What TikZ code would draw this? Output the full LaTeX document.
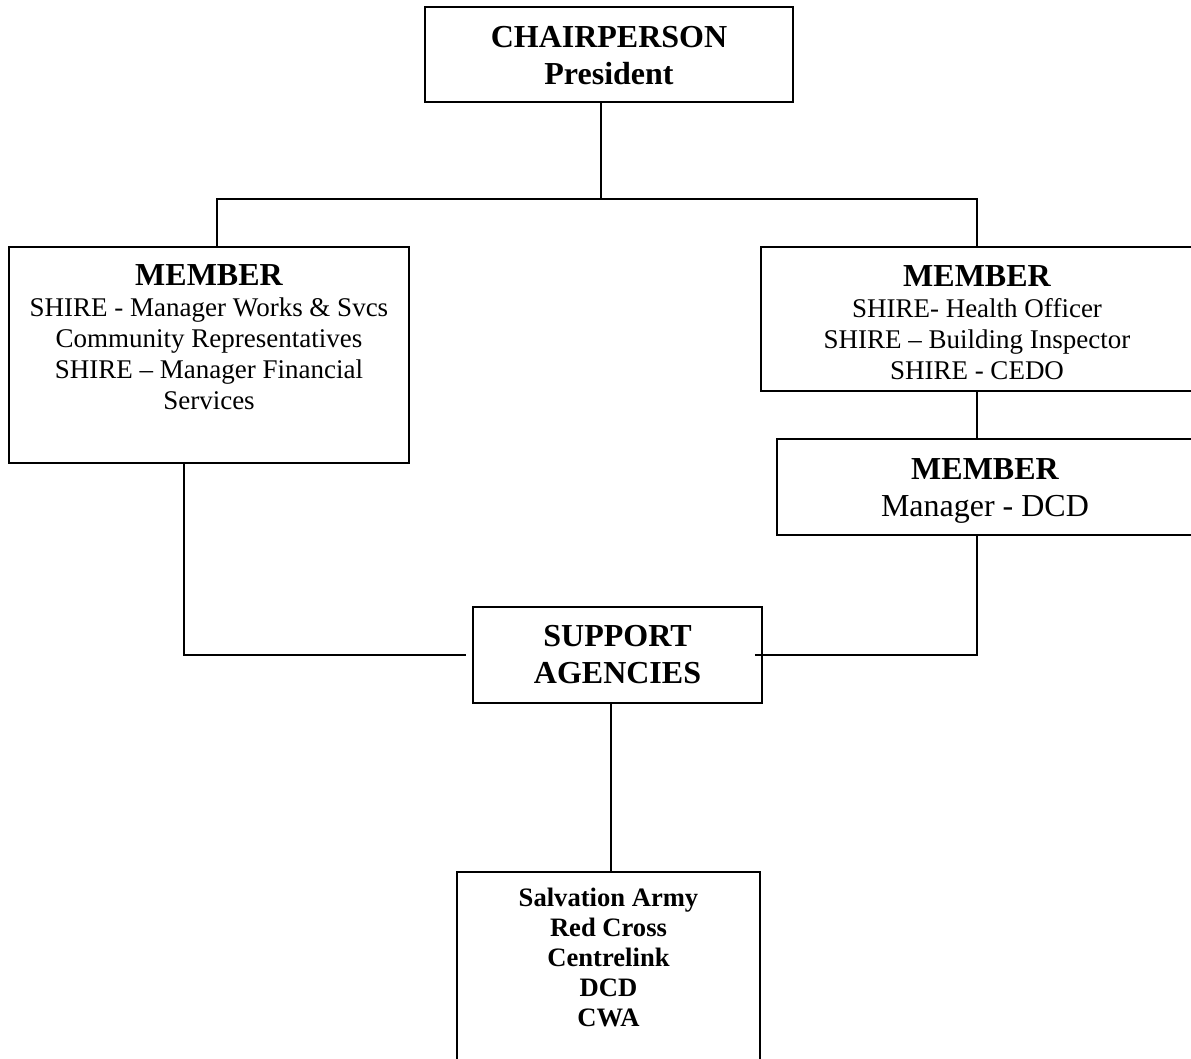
\documentclass[tikz,border=0pt]{standalone}
\usepackage{fontspec}
\setmainfont{Liberation Serif}
\usetikzlibrary{positioning,calc}

\begin{document}
\begin{tikzpicture}[x=0.5pt, y=-0.5pt,
    box/.style={draw, line width=0.8pt, inner sep=0pt},
    link/.style={line width=0.8pt},
    txt/.style={anchor=base, align=center, inner sep=0pt},
    head/.style={font=\fontsize{16}{18.5}\selectfont\bfseries},
    body/.style={font=\fontsize{13.5}{15.4}\selectfont}]
    \useasboundingbox (0,0) rectangle (1191,1059);

    % Boxes
    \node[box, minimum width=184pt, minimum height=47.5pt] (chair) at (609,54.5) {};
    \node[box, minimum width=200pt, minimum height=108pt] (memL) at (209,355) {};
    \node[box, minimum width=216pt, minimum height=72pt] (memR) at (977,319) {};
    \node[box, minimum width=208pt, minimum height=48pt] (memDCD) at (985,487) {};
    \node[box, minimum width=144.5pt, minimum height=48pt] (support) at (617.5,655) {};
    \node[box, minimum width=151.5pt, minimum height=114pt] (agencies) at (608.5,986) {};

    % Texts (base = last line)
    \node[txt, head] (chairT) at ([yshift=-39pt]chair.north) {CHAIRPERSON\\President};
    \node[txt, body] (memLT) at ([yshift=-81.5pt]memL.north)
        {{\fontsize{16}{18}\selectfont\bfseries MEMBER}\\SHIRE - Manager Works \& Svcs\\Community Representatives\\SHIRE – Manager Financial\\Services};
    \node[txt, body] (memRT) at ([yshift=-66.5pt]memR.north)
        {{\fontsize{16}{18}\selectfont\bfseries MEMBER}\\SHIRE- Health Officer\\SHIRE – Building Inspector\\SHIRE - CEDO};
    \node[txt, font=\fontsize{16}{18.5}\selectfont] (memDCDT) at ([yshift=-39pt]memDCD.north)
        {{\bfseries MEMBER}\\Manager - DCD};
    \node[txt, head] (supportT) at ([yshift=-38.5pt]support.north) {SUPPORT\\AGENCIES};
    \node[txt, font=\fontsize{13.3}{15}\selectfont\bfseries] (agenciesT) at ([yshift=-77.5pt]agencies.north)
        {Salvation Army\\Red Cross\\Centrelink\\DCD\\CWA};

    % Connectors
    \coordinate (jTop) at (601,199);
    \coordinate (jL) at (217,199);
    \coordinate (jR) at (977,199);
    \coordinate (jLow) at (184,655);
    \coordinate (jMid) at (611,780);
    \draw[link] (chair.south -| jTop) -- (jTop);
    \draw[link] (memL.north -| jL) -- (jL) -- (jR) -- (memR.north);
    \draw[link] (memR.south) -- (memDCD.north -| memR.south);
    \draw[link] (memL.south -| jLow) |- ([xshift=-3pt]support.west);
    \draw[link] ([xshift=-4pt]support.east) -| (memDCD.south -| memR.south);
    \draw[link] (support.south -| jMid) -- (agencies.north -| jMid);
\end{tikzpicture}
\end{document}
